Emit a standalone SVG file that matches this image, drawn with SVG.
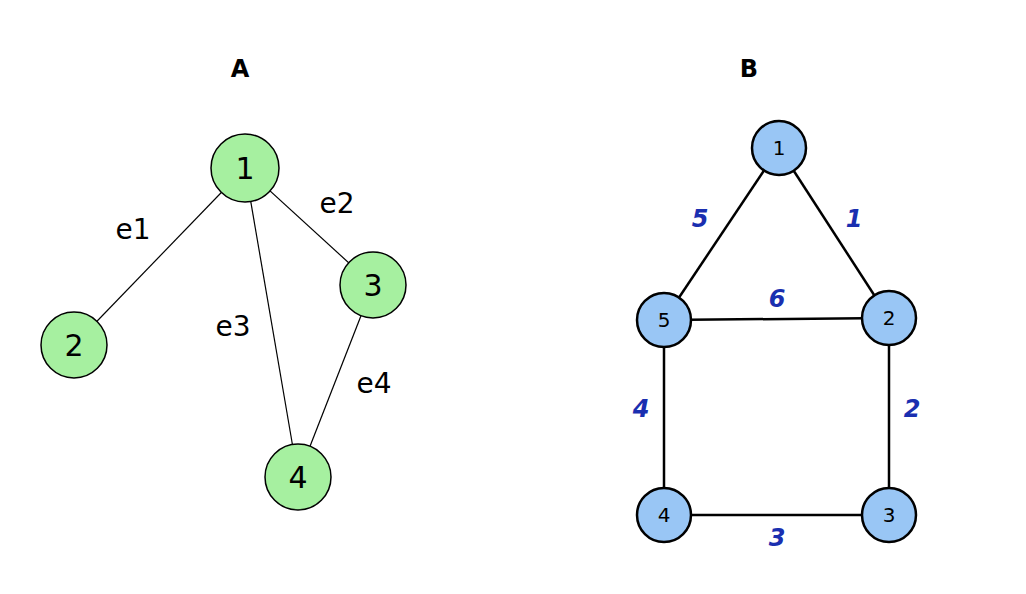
<svg xmlns="http://www.w3.org/2000/svg" width="1026" height="594" viewBox="0 0 1026 594">
<style>
.t{font-family:"DejaVu Sans",sans-serif;font-weight:bold;font-size:24px;text-anchor:middle}
.ga{fill:#a6f0a0;stroke:#000;stroke-width:1.5}
.gb{fill:#99c6f5;stroke:#000;stroke-width:2.5}
.la{font-family:"DejaVu Sans",sans-serif;font-size:30px;text-anchor:middle;dominant-baseline:central}
.lb{font-family:"DejaVu Sans",sans-serif;font-size:20px;text-anchor:middle;dominant-baseline:central}
.ea{font-family:"DejaVu Sans",sans-serif;font-size:28px;text-anchor:middle;dominant-baseline:central}
.eb{font-family:"DejaVu Sans",sans-serif;font-size:24px;font-weight:bold;font-style:italic;fill:#1a2fb0;text-anchor:middle;dominant-baseline:central}
</style>
<rect width="1026" height="594" fill="#fff"/>
<text class="t" x="240" y="77">A</text>
<text class="t" x="749" y="77">B</text>
<g id="connectors">
<g stroke="#000" stroke-width="1.2">
<line x1="245" y1="168" x2="74" y2="345"/>
<line x1="245" y1="168" x2="373" y2="285"/>
<line x1="245" y1="168" x2="298" y2="477"/>
<line x1="373" y1="285" x2="298" y2="477"/>
</g>
<g stroke="#000" stroke-width="2.5">
<line x1="779" y1="148" x2="664" y2="320"/>
<line x1="779" y1="148" x2="889" y2="318"/>
<line x1="664" y1="320" x2="889" y2="318"/>
<line x1="664" y1="320" x2="664" y2="515"/>
<line x1="889" y1="318" x2="889" y2="515"/>
<line x1="664" y1="515" x2="889" y2="515"/>
</g>
<text class="ea" x="133" y="229">e1</text>
<text class="ea" x="337" y="203">e2</text>
<text class="ea" x="233" y="326">e3</text>
<text class="ea" x="374" y="383">e4</text>
<text class="eb" x="700" y="219">5</text>
<text class="eb" x="854" y="219">1</text>
<text class="eb" x="777" y="299">6</text>
<text class="eb" x="641" y="409">4</text>
<text class="eb" x="912" y="409">2</text>
<text class="eb" x="777" y="538">3</text>
</g>
<g id="a1"><circle class="ga" cx="245" cy="168" r="34"/><text class="la" x="245" y="168">1</text></g>
<g id="a2"><circle class="ga" cx="74" cy="345" r="33"/><text class="la" x="74" y="345">2</text></g>
<g id="a3"><circle class="ga" cx="373" cy="285" r="33"/><text class="la" x="373" y="285">3</text></g>
<g id="a4"><circle class="ga" cx="298" cy="477" r="33"/><text class="la" x="298" y="477">4</text></g>
<g id="b1"><circle class="gb" cx="779" cy="148" r="27"/><text class="lb" x="779" y="148">1</text></g>
<g id="b2"><circle class="gb" cx="889" cy="318" r="27"/><text class="lb" x="889" y="318">2</text></g>
<g id="b3"><circle class="gb" cx="889" cy="515" r="27"/><text class="lb" x="889" y="515">3</text></g>
<g id="b4"><circle class="gb" cx="664" cy="515" r="27"/><text class="lb" x="664" y="515">4</text></g>
<g id="b5"><circle class="gb" cx="664" cy="320" r="27"/><text class="lb" x="664" y="320">5</text></g>
</svg>
